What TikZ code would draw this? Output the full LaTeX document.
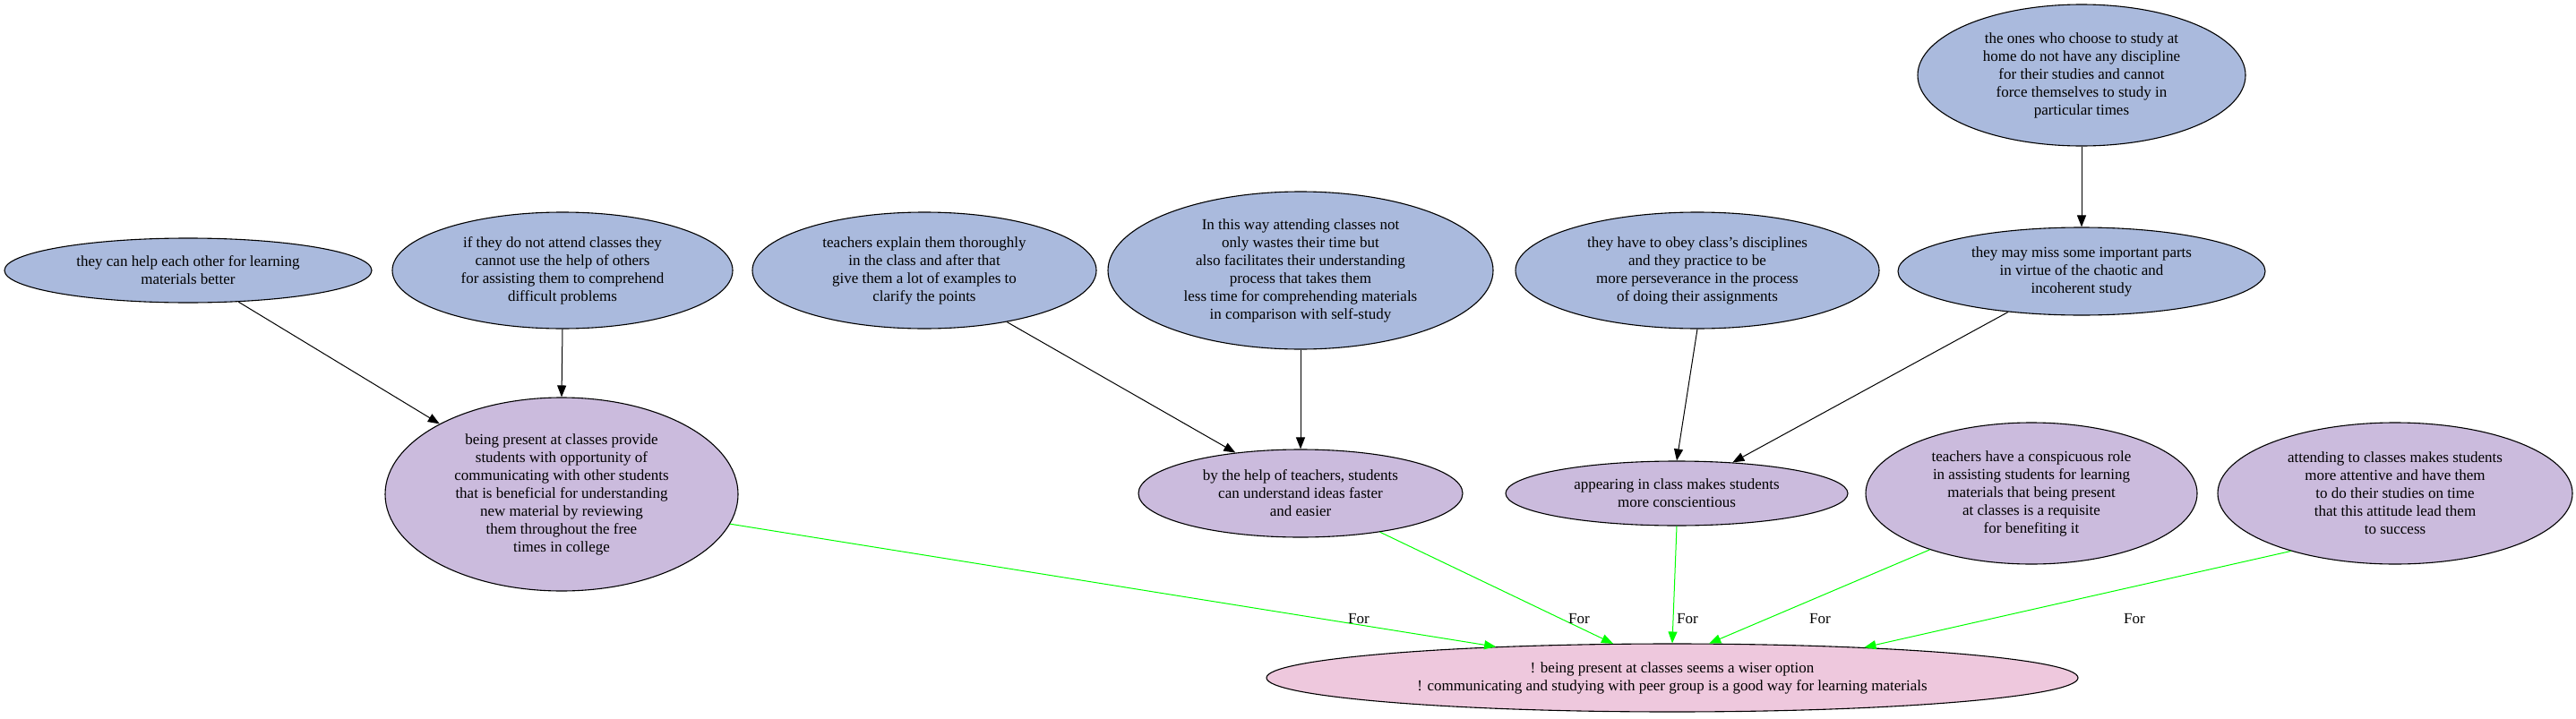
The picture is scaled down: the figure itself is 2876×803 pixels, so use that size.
\documentclass[tikz,border=0pt]{standalone}
\usepackage{fontspec}
\setmainfont{Liberation Serif}
\usepackage{xcolor}
\usetikzlibrary{shapes.geometric,arrows.meta}
\definecolor{premblue}{RGB}{170,186,221}
\definecolor{subpurple}{RGB}{203,187,221}
\definecolor{mainpink}{RGB}{238,200,221}
\definecolor{forgreen}{RGB}{0,255,0}

\begin{document}
\begin{tikzpicture}[x=0.5pt,y=-0.5pt,
  arg/.style={ellipse,draw,line width=0.55pt,inner sep=0pt,align=center,
    font=\fontsize{8.5}{10}\selectfont},
  prem/.style={arg,fill=premblue},
  sub/.style={arg,fill=subpurple},
  top/.style={arg,fill=mainpink},
  sup/.style={line width=0.5pt,-{Triangle[length=6.5pt,width=5pt]}},
  pro/.style={sup,draw=forgreen,-{Triangle[length=6.5pt,width=5pt,fill=forgreen]}},
  lbl/.style={font=\fontsize{8.5}{10}\selectfont,inner sep=1pt}]
  \useasboundingbox (0,0) rectangle (2876,803);
  % premises
  \node[prem,minimum width=205pt,minimum height=36pt] (p1) at (210,302)
    {they can help each other for learning\\ materials better};
  \node[prem,minimum width=190pt,minimum height=65pt] (p2) at (628,302)
    {if they do not attend classes they\\ cannot use the help of others\\ for assisting them to comprehend\\ difficult problems};
  \node[prem,minimum width=192pt,minimum height=65pt] (p3) at (1032,302)
    {teachers explain them thoroughly\\ in the class and after that\\ give them a lot of examples to\\ clarify the points};
  \node[prem,minimum width=215pt,minimum height=88pt] (p4) at (1452,302)
    {In this way attending classes not\\ only wastes their time but\\ also facilitates their understanding\\ process that takes them\\ less time for comprehending materials\\ in comparison with self-study};
  \node[prem,minimum width=203pt,minimum height=65pt] (p5) at (1895,302)
    {they have to obey class’s disciplines\\ and they practice to be\\ more perseverance in the process\\ of doing their assignments};
  \node[prem,minimum width=183pt,minimum height=79pt] (p6) at (2324,84)
    {the ones who choose to study at\\ home do not have any discipline\\ for their studies and cannot\\ force themselves to study in\\ particular times};
  \node[prem,minimum width=205pt,minimum height=49pt] (p7) at (2324,303)
    {they may miss some important parts\\ in virtue of the chaotic and\\ incoherent study};
  % sub-claims
  \node[sub,minimum width=197pt,minimum height=108pt] (s1) at (627,552)
    {being present at classes provide\\ students with opportunity of\\ communicating with other students\\ that is beneficial for understanding\\ new material by reviewing\\ them throughout the free\\ times in college};
  \node[sub,minimum width=181pt,minimum height=49pt] (s2) at (1452,551)
    {by the help of teachers, students\\ can understand ideas faster\\ and easier};
  \node[sub,minimum width=191pt,minimum height=36pt] (s3) at (1872,551)
    {appearing in class makes students\\ more conscientious};
  \node[sub,minimum width=185pt,minimum height=79pt] (s4) at (2268,551)
    {teachers have a conspicuous role\\ in assisting students for learning\\ materials that being present\\ at classes is a requisite\\ for benefiting it};
  \node[sub,minimum width=198pt,minimum height=79pt] (s5) at (2674,551)
    {attending to classes makes students\\ more attentive and have them\\ to do their studies on time\\ that this attitude lead them\\ to success};
  % claim
  \node[top,minimum width=453pt,minimum height=38pt] (m) at (1867,757)
    {! being present at classes seems a wiser option\\ ! communicating and studying with peer group is a good way for learning materials};
  % support
  \draw[sup] (p1.-32) -- (s1.150);
  \draw[sup] (p2.south) -- (s1.north);
  \draw[sup] (p3.-32) -- (s2.148);
  \draw[sup] (p4.south) -- (s2.north);
  \draw[sup] (p5.south) -- (s3.north);
  \draw[sup] (p7.-151) -- (s3.29);
  \draw[sup] (p6.south) -- (p7.north);
  \draw[pro] (s1.-10) -- (m.170);
  \draw[pro] (s2.-26) -- (m.150);
  \draw[pro] (s3.south) -- (m.north);
  \draw[pro] (s4.-151) -- (m.43);
  \draw[pro] (s5.-151) -- (m.9);
  \node[lbl] (f1) at (1517,691) {For};
  \node[lbl] (f2) at (1763,691) {For};
  \node[lbl] (f3) at (1884,691) {For};
  \node[lbl] (f4) at (2032,691) {For};
  \node[lbl] (f5) at (2383,691) {For};
\end{tikzpicture}
\end{document}
